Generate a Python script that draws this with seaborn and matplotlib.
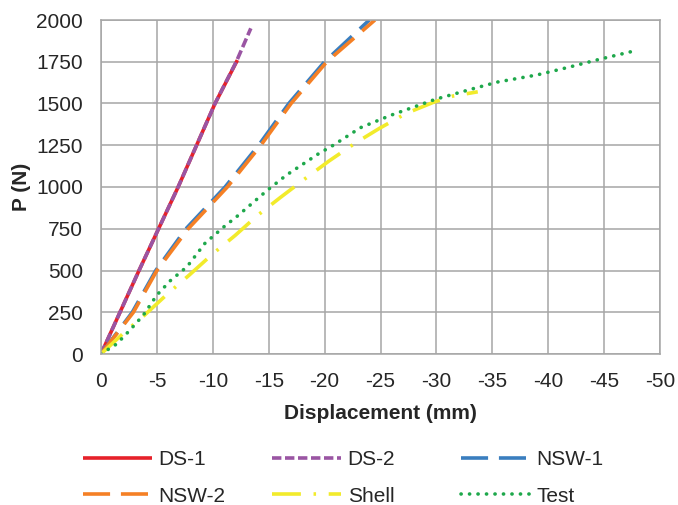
import numpy as np
import pandas as pd
import matplotlib
matplotlib.use('Agg')
import matplotlib.pyplot as plt
import seaborn as sns

# ── Data ──────────────────────────────────────────────────────────────────
ds1_x = [0, -3.4, -6.9, -10.2, -12.2]
ds1_p = [0, 500, 1000, 1500, 1760]

ds2_x = [0, -3.4, -6.9, -10.2, -12.1, -13.4]
ds2_p = [0, 500, 1000, 1500, 1750, 1950]

nsw1_x = [0, -2.8, -4.9, -7.6, -11.1, -14.1, -16.8, -20.0, -24.0]
nsw1_p = [0, 250, 500, 750, 1000, 1250, 1500, 1750, 2000]

nsw2_x = [0, -2.9, -5.0, -7.8, -11.3, -14.3, -17.0, -20.2, -24.5]
nsw2_p = [0, 250, 500, 750, 1000, 1250, 1500, 1750, 2000]

shell_x = [0, -2.0, -3.9, -6.0, -7.9, -10.0, -12.0, -14.0, -16.0, -18.3,
           -20.4, -22.7, -24.9, -27.3, -29.8, -31.5, -33.7]
shell_p = [0, 124, 233, 363, 473, 600, 710, 830, 935, 1052,
           1156, 1261, 1351, 1441, 1509, 1545, 1570]

test_x = [0, -1.4, -2.6, -3.8, -5.0, -6.2, -7.7, -9.3, -11.0, -12.2, -14.9,
          -16.6, -19.5, -20.8, -23.2, -25.9, -29.9, -33.4, -35.5, -39.0,
          -41.7, -44.6, -47.4]
test_p = [0, 60, 144, 234, 353, 439, 523, 663, 762, 826, 982,
          1072, 1201, 1251, 1355, 1429, 1525, 1591, 1629, 1671,
          1715, 1765, 1810]

x_ticks = list(range(0, -55, -5))
y_ticks = list(range(0, 2250, 250))

# ── Styling ───────────────────────────────────────────────────────────────
sns.set_theme(style='white')
plt.rcParams['font.family'] = ['Liberation Sans', 'DejaVu Sans']
TXT = '#262626'
GRID = '#a6a6a6'
LW = 2.6

series = [
    # label, xs, ps, color, dashes, capstyle
    ('DS-1', ds1_x, ds1_p, '#e6212a', None, 'butt'),
    ('DS-2', ds2_x, ds2_p, '#9a55a3', (2.6, 1.0), 'butt'),
    ('NSW-1', nsw1_x, nsw1_p, '#3a7ebf', (7.5, 3.0), 'butt'),
    ('NSW-2', nsw2_x, nsw2_p, '#f58025', (7.5, 3.0), 'butt'),
    ('Shell', shell_x, shell_p, '#f2eb2b', (8, 3.5, 0.7, 3.5), 'butt'),
    ('Test', test_x, test_p, '#1ea84b', (0.05, 2.3), 'round'),
]

fig = plt.figure(figsize=(6.78, 5.05), dpi=100)
ax = fig.add_axes([101 / 678, 1 - 354 / 505, (660 - 101) / 678, (354 - 20) / 505])

handles = {}
for label, xs, ps, color, dashes, cap in series:
    df = pd.DataFrame({'Displacement': xs, 'P': ps})
    sns.lineplot(data=df, x='Displacement', y='P', ax=ax, sort=False,
                 estimator=None, color=color, linewidth=LW, label=label,
                 legend=False)
    line = ax.get_lines()[-1]
    if dashes is not None:
        line.set_dashes(dashes)
    line.set_dash_capstyle(cap)
    line.set_solid_capstyle(cap)
    handles[label] = line

ax.set_xlim(0, -50)
ax.set_ylim(0, 2000)
ax.set_xticks(x_ticks)
ax.set_yticks(y_ticks)
ax.set_xticklabels([str(v) for v in x_ticks])
ax.grid(True, color=GRID, linewidth=1.1)
ax.set_axisbelow(True)
for s in ax.spines.values():
    s.set_color(GRID)
    s.set_linewidth(1.1)
ax.tick_params(axis='both', length=0, labelsize=15, colors=TXT, pad=13)
ax.set_xlabel('Displacement (mm)', fontsize=15, fontweight='bold', color=TXT, labelpad=9)
ax.set_ylabel('P (N)', fontsize=15, fontweight='bold', color=TXT, labelpad=4)

# Excel-style legend: three equal-width columns
cols = [(83, ['DS-1', 'NSW-2']), (272, ['DS-2', 'Shell']), (461, ['NSW-1', 'Test'])]
for xpix, labels in cols:
    fig.legend([handles[l] for l in labels], labels, loc='upper left',
               bbox_to_anchor=(xpix / 678, 1 - 450 / 505), frameon=False,
               fontsize=15, handlelength=3.3, handletextpad=0.33,
               borderpad=0, borderaxespad=0, labelspacing=0.85,
               labelcolor=TXT)

fig.savefig('out.png', dpi=100, facecolor='white')
